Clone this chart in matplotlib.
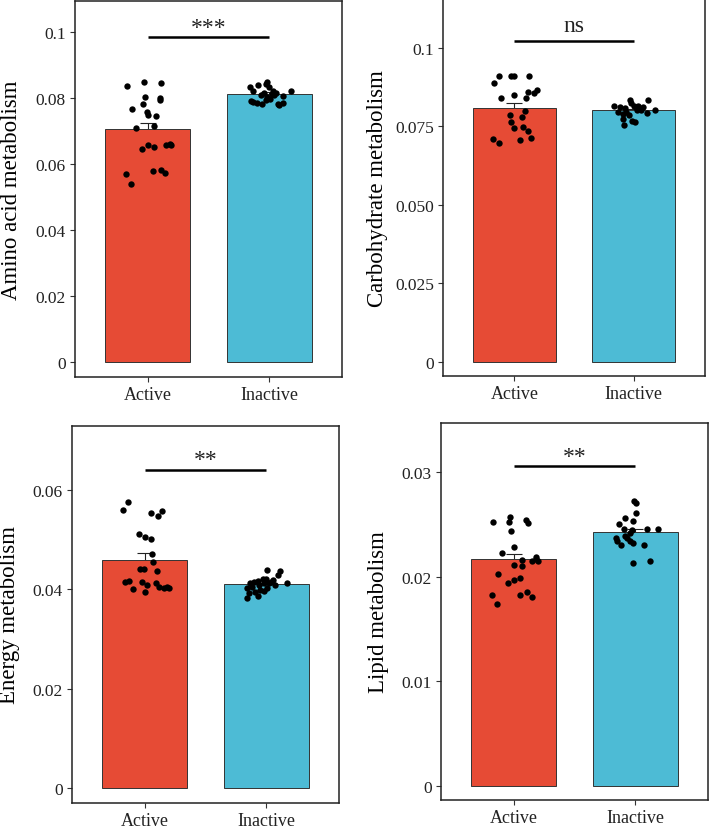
import numpy as np
import matplotlib
matplotlib.use("Agg")
import matplotlib.pyplot as plt

plt.rcParams['font.family'] = ['Liberation Serif', 'DejaVu Serif']

groups = ["Active", "Inactive"]
bar_colors = ["#E64B35", "#4DBBD5"]

## panel data
ylabels = ["Amino acid metabolism", "Carbohydrate metabolism",
           "Energy metabolism", "Lipid metabolism"]
sig_labels = ["***", "ns", "**", "**"]
sig_y = [0.0985, 0.1021, 0.0641, 0.0306]

means = [[0.0705, 0.0813], [0.0808, 0.0801], [0.0460, 0.0410], [0.02166, 0.02430]]
sems = [[0.0020, 0.0004], [0.0015, 0.0004], [0.0013, 0.0003], [0.0005, 0.0003]]

ylims = [(-0.0045, 0.1093), (-0.0045, 0.1155), (-0.003, 0.0729), (-0.00137, 0.0347)]
yticks = [[0, 0.02, 0.04, 0.06, 0.08, 0.1], [0, 0.025, 0.05, 0.075, 0.1],
          [0, 0.02, 0.04, 0.06], [0, 0.01, 0.02, 0.03]]
ytick_labels = [["0", "0.02", "0.04", "0.06", "0.08", "0.1"],
                ["0", "0.025", "0.050", "0.075", "0.1"],
                ["0", "0.02", "0.04", "0.06"],
                ["0", "0.01", "0.02", "0.03"]]

# amino acid
amino_act = [0.0837, 0.0849, 0.0845, 0.0802, 0.0799, 0.0792, 0.0782, 0.0767, 0.0758, 0.0748,
             0.0745, 0.0710, 0.0716, 0.0646, 0.0658, 0.0652, 0.0658, 0.0656, 0.0660, 0.0569,
             0.0539, 0.0577, 0.0583, 0.0571]
amino_act_dx = [-0.17, -0.03, 0.11, -0.02, 0.10, 0.10, -0.04, -0.13, -0.01, 0.0,
                0.07, -0.10, 0.05, -0.05, 0.0, 0.05, 0.15, 0.19, 0.18, -0.18,
                -0.14, 0.04, 0.11, 0.14]
amino_ina = [0.0833, 0.0821, 0.0840, 0.0849, 0.0841, 0.0833, 0.0814, 0.0821, 0.0807, 0.0807,
             0.0787, 0.0782, 0.0792, 0.0797, 0.0779, 0.0784, 0.0804, 0.0821, 0.0790, 0.0784,
             0.0802, 0.0782, 0.0812, 0.0814]
amino_ina_dx = [-0.16, -0.13, -0.09, -0.02, -0.03, 0.0, -0.04, 0.03, -0.07, 0.04,
                -0.13, -0.06, -0.03, 0.01, 0.08, 0.11, 0.11, 0.18, -0.15, -0.10,
                -0.02, 0.07, 0.02, 0.06]

# carbohydrate
carb_act = [0.0911, 0.0911, 0.0911, 0.0911, 0.0887, 0.0840, 0.0850, 0.0840, 0.0859, 0.0866,
            0.0857, 0.0799, 0.0786, 0.0779, 0.0765, 0.0745, 0.0748, 0.0735, 0.0709, 0.0696,
            0.0707, 0.0711]
carb_act_dx = [-0.13, -0.03, 0.0, 0.12, -0.17, -0.11, 0.0, 0.10, 0.11, 0.19,
               0.16, 0.09, -0.04, 0.06, -0.03, 0.0, 0.07, 0.11, -0.18, -0.13,
               0.05, 0.14]
carb_ina = [0.0816, 0.0811, 0.0808, 0.0832, 0.0823, 0.0816, 0.0811, 0.0816, 0.0811, 0.0832,
            0.0801, 0.0791, 0.0789, 0.0786, 0.0772, 0.0768, 0.0762, 0.0753, 0.0796, 0.0796,
            0.0801, 0.0803]
carb_ina_dx = [-0.16, -0.11, -0.07, -0.03, -0.02, 0.0, 0.02, 0.04, 0.08, 0.12,
               0.18, 0.11, -0.09, -0.04, -0.09, -0.01, 0.01, -0.08, -0.13, -0.06,
               0.03, 0.06]

# energy
energy_act = [0.0575, 0.0560, 0.0553, 0.0547, 0.0557, 0.0511, 0.0505, 0.0501, 0.0471, 0.0455,
              0.0442, 0.0442, 0.0437, 0.0415, 0.0417, 0.0400, 0.0414, 0.0394, 0.0412, 0.0405,
              0.0403, 0.0402, 0.0405, 0.0409]
energy_act_dx = [-0.14, -0.18, 0.05, 0.11, 0.14, -0.05, 0.0, 0.05, 0.06, 0.07,
                 -0.04, -0.01, 0.10, -0.16, -0.13, -0.10, -0.02, 0.0, 0.09, 0.12,
                 0.16, 0.20, 0.18, 0.02]
energy_ina = [0.0440, 0.0437, 0.0429, 0.0413, 0.0409, 0.0417, 0.0421, 0.0421, 0.0415, 0.0412,
              0.0415, 0.0409, 0.0412, 0.0412, 0.0403, 0.0392, 0.0382, 0.0395, 0.0387, 0.0399,
              0.0397, 0.0402, 0.0405, 0.0419]
energy_ina_dx = [0.01, 0.11, 0.10, 0.17, 0.07, -0.07, -0.03, 0.0, 0.04, -0.13,
                 -0.10, -0.06, -0.02, 0.02, -0.16, -0.14, -0.16, -0.09, -0.07, -0.05,
                 -0.02, 0.01, -0.12, 0.06]

# lipid
lipid_act = [0.0252, 0.0257, 0.0252, 0.0254, 0.0251, 0.0244, 0.0228, 0.0223, 0.0216, 0.0219,
             0.0215, 0.0215, 0.0211, 0.0210, 0.0203, 0.0199, 0.0197, 0.0194, 0.0185, 0.0181,
             0.0182, 0.0182, 0.0174, 0.0217]
lipid_act_dx = [-0.17, -0.03, -0.04, 0.10, 0.12, -0.02, 0.0, -0.10, 0.07, 0.18,
                0.20, 0.15, 0.0, 0.07, -0.13, 0.05, 0.0, -0.05, 0.11, 0.15,
                0.05, -0.18, -0.14, 0.18]
lipid_ina = [0.0272, 0.0270, 0.0261, 0.0256, 0.0250, 0.0253, 0.0246, 0.0245, 0.0246, 0.0246,
             0.0237, 0.0234, 0.0230, 0.0237, 0.0234, 0.0232, 0.0242, 0.0230, 0.0213, 0.0215,
             0.0239]
lipid_ina_dx = [-0.01, 0.01, 0.01, -0.08, -0.13, -0.02, -0.09, -0.03, 0.10, 0.19,
                -0.16, -0.15, -0.12, -0.07, -0.04, -0.02, -0.04, 0.07, -0.02, 0.12,
                -0.08]

points = [[(amino_act, amino_act_dx), (amino_ina, amino_ina_dx)],
          [(carb_act, carb_act_dx), (carb_ina, carb_ina_dx)],
          [(energy_act, energy_act_dx), (energy_ina, energy_ina_dx)],
          [(lipid_act, lipid_act_dx), (lipid_ina, lipid_ina_dx)]]

## layout in pixels: left, top, right, bottom
W, H = 709, 829
boxes = [(75, 2, 342, 378), (443, 0, 705, 377), (72, 427, 339, 804), (441, 424, 708, 801)]
label_x = [-0.20, -0.21, -0.195, -0.195]
sig_off = [3, 7, 3.5, 3]

fig = plt.figure(figsize=(W / 100, H / 100), dpi=100)
x = np.arange(1, len(groups) + 1)

for i in range(4):
    l, t, r, b = boxes[i]
    ax = fig.add_axes([l / W, 1 - b / H, (r - l) / W, (b - t) / H])

    ax.errorbar(x, means[i], yerr=sems[i], fmt='none', ecolor='#222222',
                elinewidth=0.8, capsize=6, capthick=0.8, zorder=1)
    ax.bar(x, means[i], width=0.7, color=bar_colors, edgecolor='#333333',
           linewidth=0.7, zorder=2)
    for j in range(2):
        vals, dx = points[i][j]
        ax.scatter(x[j] + np.array(dx), vals, s=21, color='black', zorder=3,
                   linewidths=0)

    # significance bar
    ax.plot([1, 2], [sig_y[i], sig_y[i]], color='black', lw=1.8, zorder=4,
            solid_capstyle='butt')
    ax.annotate(sig_labels[i], xy=(1.5, sig_y[i]), xytext=(0, sig_off[i]),
                textcoords='offset points', ha='center', va='baseline',
                fontsize=17, color='#222222')

    ax.set_xlim(0.4, 2.6)
    ax.set_ylim(*ylims[i])
    ax.set_xticks(x)
    ax.set_xticklabels(groups, fontsize=13, color='#222222')
    ax.set_yticks(yticks[i])
    ax.set_yticklabels(ytick_labels[i], fontsize=12.5, color='#222222')
    ax.tick_params(length=3.5, width=0.8, color='#333333', pad=3)
    ax.set_ylabel(ylabels[i], fontsize=16.5)
    ax.yaxis.set_label_coords(label_x[i], 0.5)
    for sp in ax.spines.values():
        sp.set_linewidth(1.1)
        sp.set_color('#222222')

fig.savefig("out.png", dpi=100)
